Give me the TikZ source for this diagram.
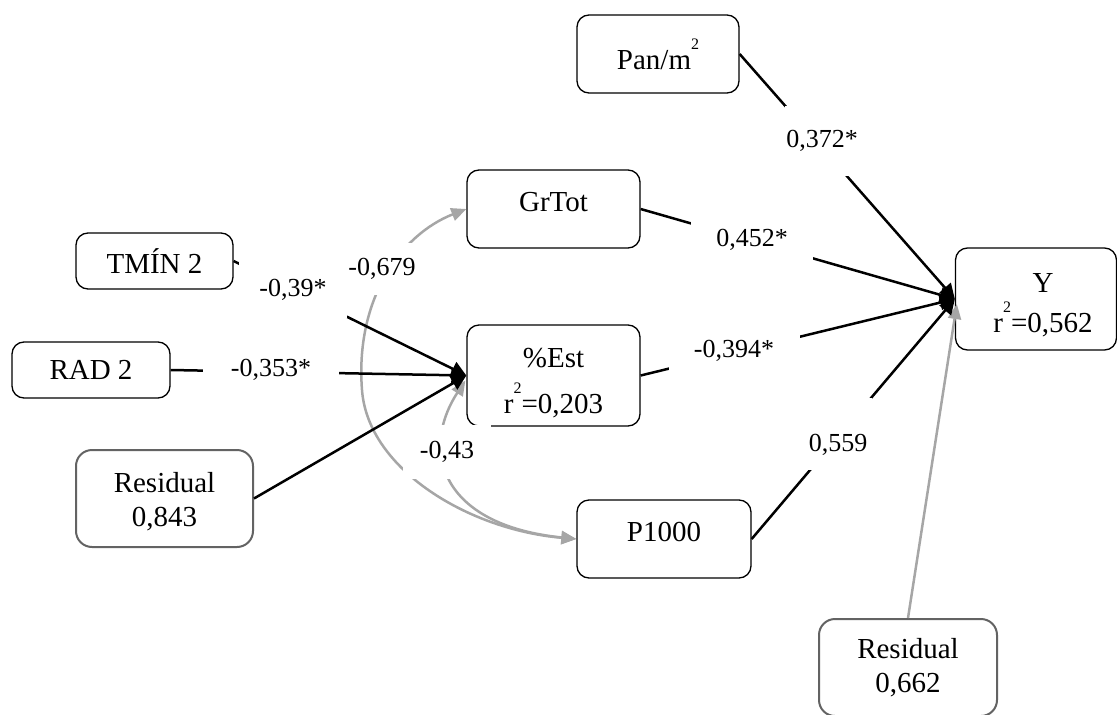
\documentclass[tikz,border=0pt]{standalone}
\usepackage{fontspec}
\setmainfont{Liberation Serif}
\usetikzlibrary{arrows.meta,calc}
\definecolor{lgray}{HTML}{A6A6A6}
\definecolor{dgray}{HTML}{636363}
\newcommand\suptwo{\raisebox{20pt}{\fontsize{16}{16}\selectfont 2}}
\begin{document}
\begin{tikzpicture}[x=1pt,y=-1pt,
  box/.style={draw=black, line width=1.3pt, rounded corners=12pt, align=center, inner sep=0pt,
              font=\fontsize{29}{34}\selectfont},
  resbox/.style={box, draw=dgray, line width=2pt, rounded corners=16pt},
  conn/.style={line width=2.5pt, -{Triangle[length=15pt,width=15pt]}},
  corr/.style={draw=lgray, line width=2.5pt, {Triangle[length=15pt,width=13pt]}-{Triangle[length=15pt,width=13pt]}},
  resarr/.style={draw=lgray, line width=2.5pt, -{Triangle[length=15pt,width=13pt]}},
  lbl/.style={fill=white, inner sep=0pt, font=\fontsize{26}{30}\selectfont}]
\useasboundingbox (0,0) rectangle (1117,715);
\clip (0,0) rectangle (1117,715);

% boxes
\node[box, minimum width=162pt, minimum height=78pt] (pan) at (658,54) {Pan/m\suptwo};
\node[box, minimum width=173pt, minimum height=78pt, text depth=14pt] (grtot) at (553.5,209) {GrTot};
\node[box, minimum width=157pt, minimum height=56pt] (tmin) at (154.5,261) {TMÍN 2};
\node[box, minimum width=158pt, minimum height=56pt] (rad) at (91,370) {RAD 2};
\node[resbox, minimum width=177pt, minimum height=97pt] (res1) at (164.5,498.5)
  {\rule{0pt}{26pt}Residual\\0,843};
\node[box, minimum width=173pt, minimum height=101pt] (est) at (553.5,375.5)
  {\rule{0pt}{34pt}\%Est\\[12pt]r\suptwo=0,203};
\node[box, minimum width=174pt, minimum height=78pt, text depth=14pt] (p1000) at (664,539) {P1000};
\node[box, minimum width=161pt, minimum height=102pt] (y) at (1036,299)
  {\rule{0pt}{31pt}\hspace*{14pt}Y\\[6pt]\hspace*{14pt}r\suptwo=0,562};
\node[resbox, minimum width=178pt, minimum height=97pt] (res2) at (908,667.5) {Residual\\0,662};

% correlations (gray)
\draw[corr] (grtot.west) .. controls (400,235) and (355,300) .. (362,390)
            .. controls (368,470) and (470,530) .. (p1000.west);
\coordinate (estin) at ($(est.west)+(-1,5)$);
\draw[corr] (estin) .. controls (420,450) and (440,525) .. (p1000.west);
\coordinate (yin) at ($(y.west)+(2,5)$);
\draw[resarr] (res2.north) -- (yin);

% paths (black)
\draw[conn] (tmin.east) -- (est.west);
\draw[conn] (rad.east) -- (est.west);
\draw[conn] (res1.east) -- (est.west);
\draw[conn] (pan.east) -- (y.west);
\draw[conn] (grtot.east) -- (y.west);
\draw[conn] (est.east) -- (y.west);
\draw[conn] (p1000.east) -- (y.west);

% labels
\node[lbl, minimum width=108pt, minimum height=56pt] (l1) at (293,290) {-0,39*};
\node[lbl, minimum width=136pt, minimum height=40pt] (l2) at (271,370) {-0,353*};
\node[lbl, minimum width=70pt, minimum height=52pt] (l3) at (382,269) {-0,679};
\node[lbl, minimum width=88pt, minimum height=54pt] (l4) at (447,452) {-0,43};
\node[lbl, minimum width=122pt, minimum height=40pt] (l5) at (752,240) {0,452*};
\node[lbl, minimum width=131pt, minimum height=40pt] (l6) at (734,351) {-0,394*};
\node[lbl, minimum width=74pt, minimum height=70pt] (l7) at (822,141) {0,372*};
\node[lbl, minimum width=67pt, minimum height=72pt, text height=38pt] (l8) at (838,434) {0,559};
\end{tikzpicture}
\end{document}
